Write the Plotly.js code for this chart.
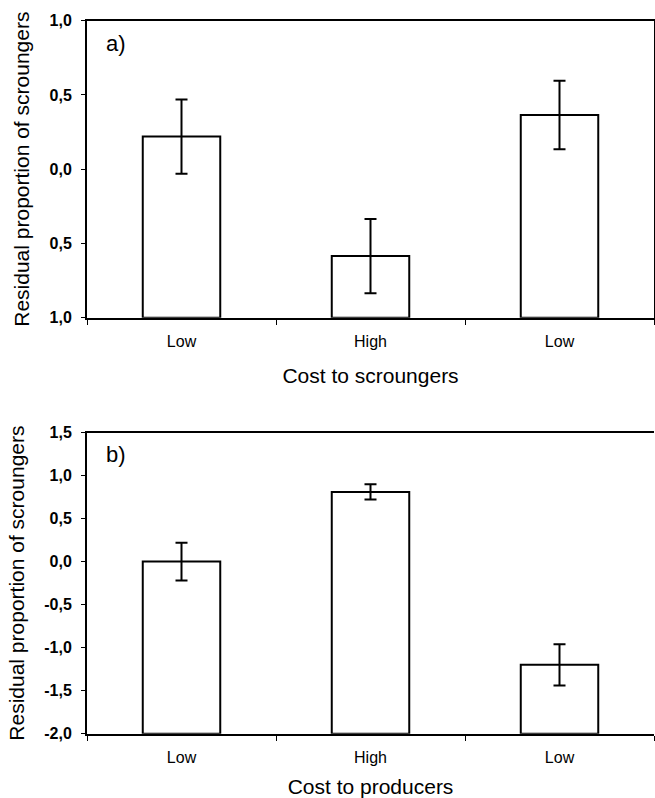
<!DOCTYPE html>
<html>
<head>
<meta charset="utf-8">
<script src="https://cdn.plot.ly/plotly-3.0.1.min.js"></script>
<style>html,body{margin:0;padding:0;background:#fff;}#chart{width:655px;height:798px;}</style>
</head>
<body>
<div id="chart"></div>
<script>
// Data
const categories = ["Low", "High", "Low"];
const valuesA = [0.22, -0.585, 0.365];
const errorsA = [0.25, 0.25, 0.23];
const baseA = -1;
const valuesB = [0.0, 0.81, -1.2];
const errorsB = [0.22, 0.088, 0.24];
const baseB = -2;
const tickValsA = [1, 0.5, 0, -0.5, -1];
const tickTextA = ["1,0", "0,5", "0,0", "0,5", "1,0"];
const tickValsB = [1.5, 1, 0.5, 0, -0.5, -1, -1.5, -2];
const tickTextB = ["1,5", "1,0", "0,5", "0,0", "-0,5", "-1,0", "-1,5", "-2,0"];
const yTitle = "Residual proportion of scroungers";
const xTitleA = "Cost to scroungers";
const xTitleB = "Cost to producers";

const FONT = "Liberation Sans, Arial, sans-serif";
const idx = categories.map((c, i) => i);

function barTrace(values, errors, base, xa, ya) {
  return {
    type: "bar",
    x: idx,
    y: values.map(v => v - base),
    base: base,
    xaxis: xa, yaxis: ya,
    marker: {color: "#ffffff", line: {color: "#000000", width: 2}},
    error_y: {type: "data", array: errors, visible: true, color: "#000000", thickness: 2, width: 6},
    hoverinfo: "skip",
    showlegend: false
  };
}

const xCommon = {
  type: "category",
  tickmode: "array",
  tickvals: idx,
  ticktext: categories,
  tickson: "boundaries",
  ticks: "outside", ticklen: 5, tickwidth: 1, tickcolor: "#000",
  showline: true, linewidth: 2, linecolor: "#000",
  mirror: true, showgrid: false, zeroline: false,
  tickfont: {family: FONT, size: 16, color: "#000"},
  ticklabelstandoff: 8,
  automargin: false,
  range: [-0.5, 2.5]
};

function yCommon(vals, text, range, domain, mirror) {
  return {
    domain: domain, range: range,
    tickmode: "array", tickvals: vals, ticktext: text,
    ticks: "outside", ticklen: 4, tickwidth: 1, tickcolor: "#000",
    showline: true, linewidth: 2, linecolor: "#000",
    mirror: mirror, showgrid: false, zeroline: false,
    tickfont: {family: FONT, size: 16, color: "#000", weight: "bold"},
    ticklabelstandoff: 6,
    automargin: false,
    title: {text: yTitle, font: {family: FONT, size: 21, color: "#000"}, standoff: 14}
  };
}

const layout = {
  width: 655, height: 798,
  margin: {l: 87, r: 1, t: 0, b: 0},
  paper_bgcolor: "#fff", plot_bgcolor: "#fff",
  bargap: 0.59,
  showlegend: false,
  xaxis: Object.assign({}, xCommon, {anchor: "y", title: {text: xTitleA, font: {family: FONT, size: 21, color: "#000"}, standoff: 19}}),
  yaxis: yCommon(tickValsA, tickTextA, [-1, 1], [0.6019, 0.9741], true),
  xaxis2: Object.assign({}, xCommon, {anchor: "y2", title: {text: xTitleB, font: {family: FONT, size: 21, color: "#000"}, standoff: 14}}),
  yaxis2: yCommon(tickValsB, tickTextB, [-2, 1.5], [0.0806, 0.4580], false),
  annotations: [
    {text: "a)", xref: "paper", yref: "paper", x: 0.03, y: 0.945, xanchor: "left", yanchor: "middle", showarrow: false, font: {family: FONT, size: 22, color: "#000"}},
    {text: "b)", xref: "paper", yref: "paper", x: 0.03, y: 0.431, xanchor: "left", yanchor: "middle", showarrow: false, font: {family: FONT, size: 22, color: "#000"}}
  ]
};

Plotly.newPlot("chart", [
  barTrace(valuesA, errorsA, baseA, "x", "y"),
  barTrace(valuesB, errorsB, baseB, "x2", "y2")
], layout, {staticPlot: true});
</script>
</body>
</html>
